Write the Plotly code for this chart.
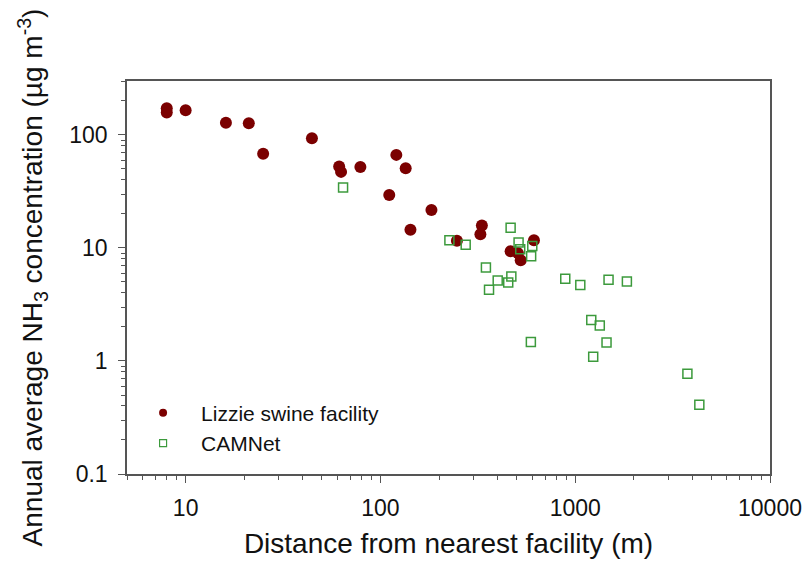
import plotly.graph_objects as go
import math

# Lizzie swine facility (distance m, NH3 ug m-3)
lizzie_x = [8, 8, 10, 16.1, 21.1, 25, 44.5, 61.4, 62.8, 78.9, 120.7, 134.8, 111, 182.8,
            142.6, 247, 331.8, 326, 466, 508, 525, 614]
lizzie_y = [172, 158, 165, 128, 127, 68, 93.5, 52.5, 47.1, 52.1, 66.6, 50.8, 29.4, 21.7,
            14.5, 11.6, 15.8, 13.2, 9.37, 9.0, 7.8, 11.7]

# CAMNet
cam_x = [64.3, 226, 274, 466, 512, 522, 602, 594, 348, 400, 470, 453, 361, 889, 1062,
         1483, 1842, 1209, 1337, 592, 1448, 1237, 3767, 4337]
cam_y = [34.2, 11.7, 10.7, 15.1, 11.2, 9.76, 10.4, 8.46, 6.72, 5.15, 5.58, 4.94, 4.26,
         5.33, 4.69, 5.22, 5.05, 2.30, 2.06, 1.47, 1.46, 1.09, 0.77, 0.41]

x_ticks = [10, 100, 1000, 10000]
y_ticks = [0.1, 1, 10, 100]

red = "#7b0000"
green = "#3c9a3c"
axis_col = "#555555"
font = "Liberation Sans, Arial, sans-serif"
txt = "#111111"

fig = go.Figure()
fig.add_trace(go.Scatter(x=lizzie_x, y=lizzie_y, mode="markers", showlegend=False,
                         marker=dict(symbol="circle", size=12, color=red)))
fig.add_trace(go.Scatter(x=cam_x, y=cam_y, mode="markers", showlegend=False,
                         marker=dict(symbol="square-open", size=9, color=green,
                                     line=dict(width=1.5, color=green))))
# legend entries
fig.add_trace(go.Scatter(x=[None], y=[None], mode="markers", name="Lizzie swine facility",
                         marker=dict(symbol="circle", size=8, color=red)))
fig.add_trace(go.Scatter(x=[None], y=[None], mode="markers", name="CAMNet",
                         marker=dict(symbol="square-open", size=7, color=green,
                                     line=dict(width=1.2, color=green))))

axis_common = dict(
    type="log", showgrid=False, zeroline=False, showline=True, mirror=True,
    automargin=False,
    linecolor=axis_col, linewidth=1.5, ticks="outside", ticklen=7, tickwidth=1,
    tickcolor=axis_col, tickfont=dict(size=23, color=txt, family=font),
    ticklabelstandoff=6,
    minor=dict(ticks="outside", ticklen=4, tickwidth=1, tickcolor=axis_col, dtick="D1",
               showgrid=False),
)

fig.update_xaxes(**axis_common, range=[math.log10(5), 4], tickvals=x_ticks,
                 ticktext=[str(v) for v in x_ticks],
                 title=dict(text="Distance from nearest facility (m)",
                            font=dict(size=28, color=txt, family=font), standoff=13))
fig.update_yaxes(**axis_common, range=[-1, math.log10(300)], tickvals=y_ticks,
                 ticktext=["0.1", "1", "10", "100"],
                 title=dict(text="Annual average NH<sub>3</sub> concentration (µg m<sup>-3</sup>)",
                            font=dict(size=28, color=txt, family=font), standoff=18))

fig.update_layout(
    width=806, height=568, margin=dict(l=127, r=36, t=81, b=94, autoexpand=False),
    plot_bgcolor="white", paper_bgcolor="white",
    legend=dict(x=-0.003, y=0.207, xanchor="left", yanchor="top", bgcolor="rgba(0,0,0,0)",
                font=dict(size=21, color=txt, family=font), itemwidth=66,
                tracegroupgap=0),
)

fig.write_html("out.html")
